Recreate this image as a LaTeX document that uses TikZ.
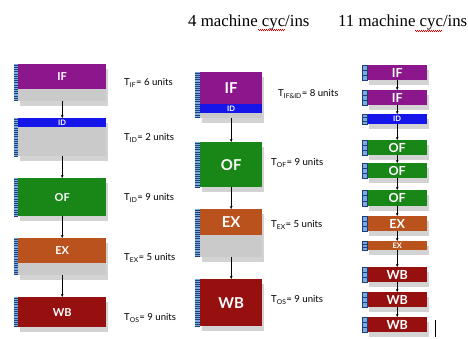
\documentclass[tikz,border=0pt]{standalone}
\usepackage{fontspec}
\setmainfont{Liberation Serif}
\newfontfamily\gill{Lato}
\usetikzlibrary{arrows.meta,shadows,calc,decorations.pathmorphing}
\definecolor{ifpurple}{RGB}{140,22,140}
\definecolor{idblue}{RGB}{22,22,235}
\definecolor{ofgreen}{RGB}{24,135,24}
\definecolor{exbrown}{RGB}{185,82,28}
\definecolor{wbred}{RGB}{150,16,16}
\definecolor{bodygray}{RGB}{202,202,202}
\definecolor{tapeblue}{RGB}{120,172,218}
\definecolor{tapedark}{RGB}{30,62,125}

\begin{document}
\begin{tikzpicture}[
    x=1pt, y=-1pt,
    blk/.style={anchor=north west, inner sep=0pt, minimum width=#1, text=white, font=\gill\bfseries},
    body/.style={blk=#1, fill=bodygray, drop shadow={opacity=0.35, shadow xshift=2pt, shadow yshift=-5pt}},
    tape/.style={anchor=north east, inner sep=0pt, minimum width=#1, fill=tapeblue,
        path picture={\foreach \k in {0,2.2,...,50} \draw[tapedark, line width=0.7pt]
            ([yshift=-\k pt-1pt]path picture bounding box.north west) -- ++(6pt,0);}},
    cell/.style={anchor=north east, inner sep=0pt, minimum width=5pt, fill=tapeblue, draw=tapedark, line width=0.5pt,
        path picture={\draw[tapedark, line width=0.5pt]
            ($(path picture bounding box.north west)!0.333!(path picture bounding box.south west)$) -- ++(6pt,0)
            ($(path picture bounding box.north west)!0.667!(path picture bounding box.south west)$) -- ++(6pt,0);}},
    lbl/.style={anchor=west, inner sep=0pt, font=\gill\fontsize{9.6}{11}\selectfont},
    title/.style={anchor=base west, inner sep=0pt, font=\fontsize{16.8}{18}\selectfont},
    arrow/.style={-{Stealth[length=3pt, width=2.6pt]}, line width=0.6pt},
    squiggle/.style={red!85!black, line width=0.4pt, decorate, decoration={zigzag, amplitude=0.8pt, segment length=2pt}}
]
\useasboundingbox (0,0) rectangle (468,339);

% titles
\node[title] (t4) at (188,27) {4 machine cyc/ins};
\node[title] (t11) at (338,27) {11 machine cyc/ins};
\draw[squiggle] (258,30) -- (285,30);
\draw[squiggle] (415,31) -- (442,31);

% non-pipelined: five stages
\node[body=88pt, minimum height=37pt] (lIF) at (18,64) {};
\node[blk=88pt, minimum height=25pt, fill=ifpurple, font=\gill\bfseries\fontsize{11}{12}\selectfont] (lIFb) at (18,64) {IF};
\node[body=88pt, minimum height=38pt] (lID) at (18,118) {};
\node[blk=88pt, minimum height=9pt, fill=idblue, font=\gill\bfseries\fontsize{7.5}{8}\selectfont] (lIDb) at (18,118) {ID};
\node[body=88pt, minimum height=38pt, fill=ofgreen, font=\gill\bfseries\fontsize{11}{12}\selectfont] (lOF) at (18,178) {OF};
\node[body=88pt, minimum height=37pt] (lEX) at (18,238) {};
\node[blk=88pt, minimum height=25pt, fill=exbrown, font=\gill\bfseries\fontsize{11}{12}\selectfont] (lEXb) at (18,238) {EX};
\node[body=88pt, minimum height=30pt, fill=wbred, font=\gill\bfseries\fontsize{11}{12}\selectfont] (lWB) at (18,297) {WB};
\foreach \n/\h in {lIF/37, lID/38, lOF/38, lEX/37, lWB/30}
  \node[tape=4pt, minimum height=\h pt] (\n t) at (\n.north west) {};

\node[lbl] (lIFl) at (124,83) {T\textsubscript{IF}= 6 units};
\node[lbl] (lIDl) at (124,138) {T\textsubscript{ID}= 2 units};
\node[lbl] (lOFl) at (124,198) {T\textsubscript{ID}= 9 units};
\node[lbl] (lEXl) at (124,258) {T\textsubscript{EX}= 5 units};
\node[lbl] (lWBl) at (124,318) {T\textsubscript{OS}= 9 units};

% four machine cycles
\node[body=62pt, minimum height=46pt] (mIF) at (200,72) {};
\node[blk=62pt, minimum height=32pt, fill=ifpurple, font=\gill\bfseries\fontsize{15}{16}\selectfont] (mIFb) at (200,72) {IF};
\node[blk=62pt, minimum height=9pt, fill=idblue, font=\gill\bfseries\fontsize{7.5}{8}\selectfont] (mIDb) at (200,104) {ID};
\node[body=62pt, minimum height=45pt, fill=ofgreen, font=\gill\bfseries\fontsize{15}{16}\selectfont] (mOF) at (200,142) {OF};
\node[body=62pt, minimum height=48pt] (mEX) at (200,209) {};
\node[blk=62pt, minimum height=26pt, fill=exbrown, font=\gill\bfseries\fontsize{15}{16}\selectfont] (mEXb) at (200,209) {EX};
\node[body=62pt, minimum height=47pt, fill=wbred, font=\gill\bfseries\fontsize{15}{16}\selectfont] (mWB) at (200,279) {WB};
\foreach \n/\h in {mIF/46, mOF/45, mEX/48, mWB/47}
  \node[tape=5pt, minimum height=\h pt] (\n t) at (\n.north west) {};

\node[lbl] (mIFl) at (278,94) {T\textsubscript{IF\&ID}= 8 units};
\node[lbl] (mOFl) at (271,163) {T\textsubscript{OF}= 9 units};
\node[lbl] (mEXl) at (271,225) {T\textsubscript{EX}= 5 units};
\node[lbl] (mWBl) at (271,300) {T\textsubscript{OS}= 9 units};

% eleven machine cycles
\foreach \n/\y/\h/\c/\s/\t in {r1/65/15/ifpurple/12.5/IF, r2/90/15/ifpurple/12.5/IF, r3/114/10/idblue/7.5/ID,
    r4/140/15/ofgreen/12.5/OF, r5/163/15/ofgreen/12.5/OF, r6/190/16/ofgreen/12.5/OF,
    r7/216/15/exbrown/12.5/EX, r8/241/9/exbrown/7.5/EX,
    r9/267/15/wbred/12.5/WB, r10/292/15/wbred/12.5/WB, r11/317/15/wbred/12.5/WB}
{
  \node[body=60pt, minimum height=\h pt, fill=\c, font=\gill\bfseries\fontsize{\s}{\s}\selectfont] (\n) at (367,\y) {\t};
  \node[cell, minimum height=\h pt] (\n t) at (\n.north west) {};
}

% connectors
\foreach \a/\b in {lIF/lID, lID/lOF, lOF/lEX, lEX/lWB, mIF/mOF, mOF/mEX, mEX/mWB,
    r1/r2, r2/r3, r3/r4, r4/r5, r5/r6, r6/r7, r7/r8, r8/r9, r9/r10, r10/r11}
  \draw[arrow] (\a.south) -- (\b.north);

% cursor
\coordinate (cur) at (435,320);
\draw[line width=0.8pt] (cur) -- ++(0,17);
\end{tikzpicture}
\end{document}
